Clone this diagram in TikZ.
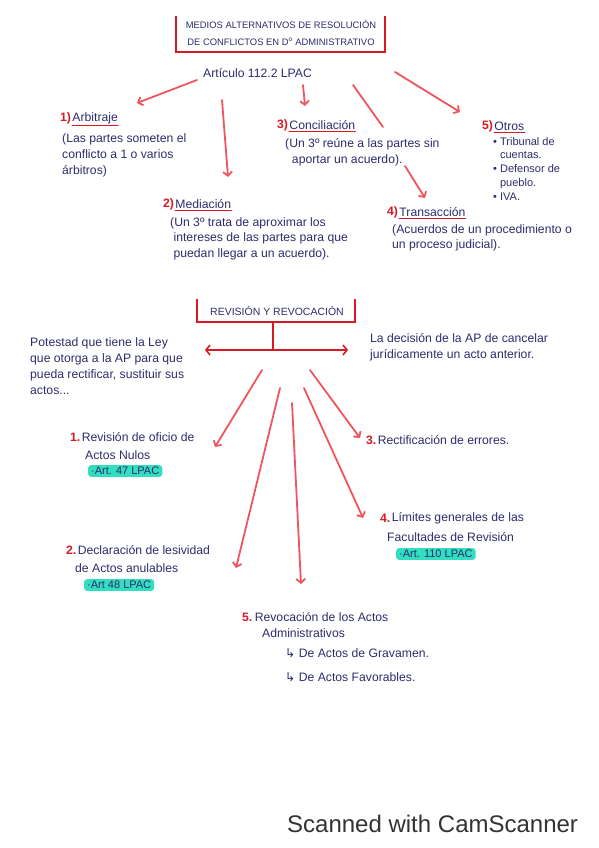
\documentclass[tikz,border=0pt]{standalone}
\usepackage{fontspec}
\setmainfont{Liberation Sans}
\newfontfamily\dvfont{DejaVu Sans}
\usepackage{tikz}
\usetikzlibrary{
    arrows.meta,
    positioning,
    calc
}
\definecolor{ink}{RGB}{45,45,110}
\definecolor{marker}{RGB}{215,25,35}
\definecolor{pen}{RGB}{238,85,95}
\definecolor{hlcyan}{RGB}{50,222,192}

\begin{document}
\begin{tikzpicture}[x=1pt, y=-1pt,
    font=\fontsize{12.2}{16}\selectfont,
    txt/.style={
        text=ink,
        inner sep=0pt,
        anchor=west
    },
    desc/.style={
        text=ink,
        inner sep=0pt,
        align=left,
        anchor=north west
    },
    num/.style={
        text=marker,
        inner sep=0pt,
        anchor=west,
        font=\fontsize{12.2}{16}\selectfont\bfseries
    },
    caps/.style={
        text=ink,
        inner sep=0pt,
        align=center,
        font=\fontsize{9.4}{17}\selectfont
    },
    hl/.style={
        text=ink,
        fill=hlcyan,
        rounded corners=3pt,
        inner xsep=3pt,
        inner ysep=2pt,
        anchor=west,
        font=\fontsize{11}{13}\selectfont
    },
    uline/.style={marker, line width=1.2pt, line cap=round},
    boxline/.style={marker, line width=1.6pt},
    penarrow/.style={-{Straight Barb[length=4pt,width=9pt]}, pen, line width=1.8pt, line cap=round},
    penline/.style={pen, line width=1.8pt, line cap=round},
    bracearrow/.style={{Straight Barb[length=4pt,width=10pt]}-{Straight Barb[length=4pt,width=10pt]}, marker, line width=1.6pt}
]
\fill[white] (0,0) rectangle (599,848);
\useasboundingbox (0,0) rectangle (599,848);

% ===== PART 1: Medios alternativos =====
\node[caps] (title) at (281,33) {MEDIOS ALTERNATIVOS DE RESOLUCIÓN\\DE CONFLICTOS EN D\textsuperscript{o} ADMINISTRATIVO};
\draw[boxline] (176,16) |- (385,52) -- (385,16);

\node[txt] (art) at (203,73) {Artículo 112.2 LPAC};

% headings
\node[num] (n1) at (60,118) {1)};
\node[txt, right=1pt of n1] (arb) {Arbitraje};
\draw[uline] ([yshift=-2pt]arb.south west) -- ([yshift=-2pt]arb.south east);
\node[desc] (arbd) at (62,133) {(Las partes someten el\\conflicto a 1 o varios\\árbitros)};

\node[num] (n3) at (277,125) {3)};
\node[txt, right=1pt of n3] (conc) {Conciliación};
\draw[uline] ([yshift=-2pt]conc.south west) -- ([yshift=-2pt]conc.south east);
\node[desc] (concd) at (285,138) {(Un 3º reúne a las partes sin\\\ \ aportar un acuerdo).};

\node[num] (n5) at (482,126) {5)};
\node[txt, right=1pt of n5] (otros) {Otros};
\draw[uline] ([yshift=-2pt]otros.south west) -- ([yshift=-2pt]otros.south east);
\node[desc, font=\fontsize{11}{13.8}\selectfont] (otrosd) at (493,137) {• Tribunal de\\\phantom{• }cuentas.\\• Defensor de\\\phantom{• }pueblo.\\• IVA.};

\node[num] (n2) at (163,204) {2)};
\node[txt, right=1pt of n2] (med) {Mediación};
\draw[uline] ([yshift=-2pt]med.south west) -- ([yshift=-2pt]med.south east);
\node[desc, font=\fontsize{12.2}{15.5}\selectfont] (medd) at (170,217) {(Un 3º trata de aproximar los\\\ intereses de las partes para que\\\ puedan llegar a un acuerdo).};

\node[num] (n4) at (387,212) {4)};
\node[txt, right=1pt of n4] (trans) {Transacción};
\draw[uline] ([yshift=-2pt]trans.south west) -- ([yshift=-2pt]trans.south east);
\node[desc, font=\fontsize{12.2}{15}\selectfont] (transd) at (392,224) {(Acuerdos de un procedimiento o\\un proceso judicial).};

% arrows from the article
\coordinate (a1s) at (197,80);   \coordinate (a1e) at (137,103);
\coordinate (a2s) at (222,100);  \coordinate (a2e) at (228,177);
\coordinate (a3s) at (303,85);   \coordinate (a3e) at (305,106);
\coordinate (a4s) at (353,85);   \coordinate (a4m) at (383,127);
\coordinate (a4t) at (405,166);  \coordinate (a4e) at (425,198);
\coordinate (a5s) at (395,72);   \coordinate (a5e) at (460,112);
\draw[penarrow] (a1s) -- (a1e);
\draw[penarrow] (a2s) -- (a2e);
\draw[penarrow] (a3s) -- (a3e);
\draw[penline] (a4s) -- (a4m);
\draw[penarrow] (a4t) -- (a4e);
\draw[penarrow] (a5s) -- (a5e);

% ===== PART 2: Revision y revocacion =====
\node[caps, font=\fontsize{10.5}{12}\selectfont] (rev) at (277,311) {REVISIÓN Y REVOCACIÓN};
\draw[boxline] (197,299) |- (355,322) -- (355,299);
\coordinate (stem) at (273,322);
\coordinate (fork) at (273,350);
\coordinate (forkl) at (205,350);
\coordinate (forkr) at (348,350);
\draw[boxline] (stem) -- (fork);
\draw[bracearrow] (forkl) -- (forkr);

\node[desc] (pot) at (30,337) {Potestad que tiene la Ley\\que otorga a la AP para que\\pueda rectificar, sustituir sus\\actos...};
\node[desc] (dec) at (370,333) {La decisión de la AP de cancelar\\jurídicamente un acto anterior.};

% items
\node[num] (r1n) at (70,437) {1.};
\node[txt, right=1pt of r1n] (r1) {Revisión de oficio de};
\node[txt] (r1b) at (85,455) {Actos Nulos};
\node[hl] (r1c) at (88,471) {·Art. 47 LPAC};

\node[num] (r3n) at (366,440) {3.};
\node[txt, right=1pt of r3n] (r3) {Rectificación de errores.};

\node[num] (r4n) at (380,518) {4.};
\node[txt, right=1pt of r4n] (r4) {Límites generales de las};
\node[txt] (r4b) at (387,537) {Facultades de Revisión};
\node[hl] (r4c) at (396,554) {·Art. 110 LPAC};

\node[num] (r2n) at (66,550) {2.};
\node[txt, right=1pt of r2n] (r2) {Declaración de lesividad};
\node[txt] (r2b) at (75,568) {de Actos anulables};
\node[hl] (r2c) at (84,585) {·Art 48 LPAC};

\node[num] (r5n) at (242,617) {5.};
\node[txt, right=2pt of r5n] (r5) {Revocación de los Actos};
\node[txt] (r5b) at (262,633) {Administrativos};
\node[txt] (r5c) at (285,653) {{\dvfont ↳} De Actos de Gravamen.};
\node[txt] (r5d) at (285,677) {{\dvfont ↳} De Actos Favorables.};

% fan of arrows
\coordinate (b1s) at (262,370);  \coordinate (b1e) at (215,447);
\coordinate (b2s) at (280,388);  \coordinate (b2e) at (236,568);
\coordinate (b5s) at (292,403);  \coordinate (b5e) at (301,584);
\coordinate (b4s) at (304,388);  \coordinate (b4e) at (363,518);
\coordinate (b3s) at (310,370);  \coordinate (b3e) at (360,438);
\draw[penarrow] (b1s) -- (b1e);
\draw[penarrow] (b2s) -- (b2e);
\draw[penarrow] (b5s) -- (b5e);
\draw[penarrow] (b4s) -- (b4e);
\draw[penarrow] (b3s) -- (b3e);

% scanner footer
\node[txt, text=black!80, font=\fontsize{24}{28}\selectfont] (scan) at (287,824) {Scanned with CamScanner};

\end{tikzpicture}
\end{document}
